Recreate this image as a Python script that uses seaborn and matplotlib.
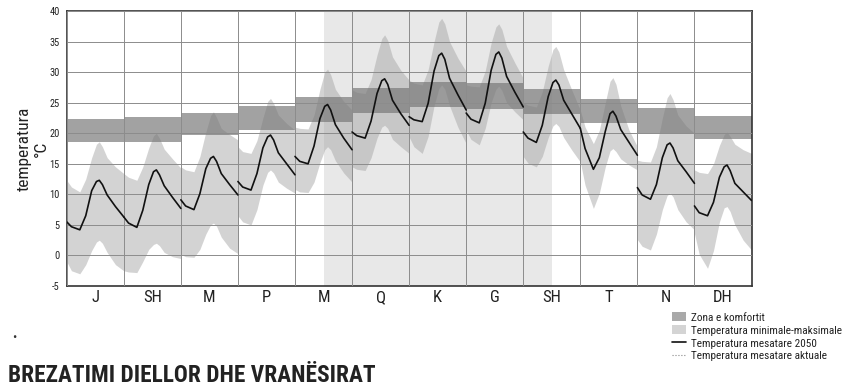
import numpy as np
import pandas as pd
import matplotlib
matplotlib.use("Agg")
import matplotlib.pyplot as plt
import seaborn as sns
from matplotlib import font_manager
from matplotlib.patches import Patch
from matplotlib.lines import Line2D

# muajt dhe oret e nje dite tipike per cdo muaj
months = ["J", "SH", "M", "P", "M", "Q", "K", "G", "SH", "T", "N", "DH"]
hours = [0, 2, 5.5, 8, 10.5, 12.5, 13.7, 15, 17, 20.5, 24]

# temperatura mesatare 2050 (nje rresht per muaj)
t_mean = [
    [5.5, 4.7, 4.2, 6.5, 10.6, 12.1, 12.3, 11.6, 9.9, 8.0, 6.3],
    [6.3, 5.3, 4.6, 7.4, 11.6, 13.7, 14.0, 13.2, 11.4, 9.5, 7.7],
    [9.1, 8.1, 7.5, 10.1, 14.2, 15.9, 16.2, 15.4, 13.4, 11.6, 9.9],
    [12.1, 11.2, 10.7, 13.4, 17.6, 19.4, 19.7, 18.9, 16.8, 15.0, 13.2],
    [16.2, 15.4, 15.0, 17.9, 22.4, 24.4, 24.7, 23.8, 21.4, 19.2, 17.3],
    [20.2, 19.6, 19.2, 22.0, 26.5, 28.6, 28.9, 28.0, 25.4, 23.2, 21.3],
    [22.7, 22.2, 21.9, 24.9, 30.2, 32.7, 33.1, 32.1, 29.0, 26.3, 23.8],
    [23.3, 22.3, 21.7, 24.9, 30.3, 32.9, 33.3, 32.3, 29.3, 26.7, 24.3],
    [20.2, 19.2, 18.5, 21.3, 26.0, 28.3, 28.7, 27.9, 25.4, 23.1, 20.8],
    [20.8, 17.5, 14.1, 16.0, 20.3, 23.2, 23.6, 22.8, 20.6, 18.5, 16.4],
    [11.1, 9.9, 9.2, 11.6, 16.0, 18.1, 18.4, 17.6, 15.5, 13.7, 11.8],
    [8.1, 7.0, 6.5, 8.7, 12.8, 14.5, 14.8, 13.9, 11.8, 10.4, 9.0],
]

# temperatura maksimale
t_max = [
    [12.3, 11.2, 10.4, 12.5, 16.0, 18.2, 18.6, 17.8, 16.0, 14.5, 13.4],
    [13.4, 12.8, 12.3, 14.5, 17.6, 19.6, 20.0, 19.2, 17.4, 15.8, 14.3],
    [14.5, 14.0, 13.7, 16.2, 20.2, 22.9, 23.5, 22.6, 20.8, 19.8, 18.9],
    [17.8, 17.0, 16.7, 18.8, 22.5, 25.2, 25.7, 24.9, 23.0, 21.6, 20.5],
    [21.0, 20.8, 20.7, 23.0, 27.2, 30.0, 30.5, 29.6, 27.2, 25.2, 23.8],
    [27.1, 26.7, 26.5, 28.8, 32.8, 35.5, 36.1, 35.2, 32.5, 30.3, 28.7],
    [28.7, 28.2, 27.9, 30.4, 35.0, 38.2, 38.8, 37.9, 35.0, 32.3, 30.1],
    [27.9, 27.7, 27.6, 30.2, 34.8, 37.4, 37.9, 37.0, 34.2, 31.5, 29.0],
    [25.0, 24.6, 24.3, 26.8, 31.0, 33.7, 34.2, 33.3, 30.4, 27.0, 23.8],
    [23.8, 21.0, 18.3, 20.5, 25.0, 28.5, 29.1, 28.0, 24.5, 20.5, 17.8],
    [15.6, 15.4, 15.3, 17.8, 22.5, 25.8, 26.5, 25.5, 23.0, 21.2, 20.0],
    [14.0, 13.6, 13.4, 15.0, 18.0, 19.8, 20.2, 19.5, 18.2, 17.3, 16.7],
]

# temperatura minimale
t_min = [
    [-1.0, -2.5, -3.0, -1.5, 0.8, 2.2, 2.5, 2.0, 0.5, -1.5, -2.5],
    [-2.5, -2.7, -2.8, -1.0, 1.0, 1.8, 2.0, 1.6, 0.5, -0.2, -0.5],
    [0.2, -0.2, -0.3, 1.0, 3.5, 5.0, 5.3, 4.8, 3.0, 1.2, 0.3],
    [6.5, 5.5, 5.0, 7.5, 11.5, 13.6, 14.0, 13.5, 12.0, 11.0, 10.2],
    [10.8, 10.4, 10.3, 12.0, 15.2, 17.3, 17.8, 17.3, 15.5, 13.5, 12.0],
    [14.5, 14.1, 13.9, 16.0, 19.2, 21.0, 21.3, 20.8, 19.0, 17.8, 16.7],
    [19.4, 17.8, 16.7, 19.5, 24.5, 27.3, 27.9, 27.2, 24.5, 21.0, 18.3],
    [20.5, 19.0, 18.1, 20.8, 25.0, 27.2, 27.7, 27.0, 25.0, 23.5, 22.2],
    [16.2, 15.1, 14.5, 16.2, 19.3, 21.2, 21.6, 21.1, 19.3, 17.2, 15.3],
    [15.3, 11.5, 7.7, 10.2, 14.5, 17.1, 17.5, 17.0, 15.8, 14.8, 14.0],
    [2.6, 1.5, 0.9, 3.5, 7.5, 9.8, 10.2, 9.6, 7.5, 5.5, 4.2],
    [3.6, 0.2, -2.1, 0.8, 5.5, 7.8, 8.0, 7.2, 5.0, 2.5, 0.9],
]

# zona e komfortit per muaj
comfort_lo = [18.6, 18.6, 19.7, 20.6, 21.9, 23.3, 24.3, 24.0, 23.2, 21.6, 20.1, 19.0]
comfort_hi = [22.4, 22.7, 23.3, 24.4, 26.0, 27.4, 28.4, 28.3, 27.2, 25.6, 24.1, 22.9]

rows = []
for i in range(len(months)):
    for j, h in enumerate(hours):
        rows.append({
            "month": i,
            "x": i + h / 24,
            "mean": t_mean[i][j],
            "lo": t_min[i][j],
            "hi": t_max[i][j],
        })
df = pd.DataFrame(rows)

sns.set_style("white")

# nje font i ngushte nese gjendet
fonts = font_manager.fontManager.ttflist
names = {f.name for f in fonts}
narrow = None
stretch = "normal"
for cand in ["Liberation Sans Narrow", "Roboto Condensed", "DejaVu Sans Condensed",
             "Noto Sans ExtraCondensed", "Noto Sans Condensed", "Open Sans Condensed",
             "Noto Sans SemiCondensed"]:
    if cand in names:
        narrow = cand
        break
if narrow is None:
    for fam in ["Roboto", "Noto Sans", "Open Sans", "DejaVu Sans", "Liberation Sans"]:
        if any(f.name == fam and f.stretch in ("condensed", "extra-condensed", "semi-condensed")
               for f in fonts):
            narrow = fam
            stretch = "condensed"
            break
if narrow is None:
    narrow = "DejaVu Sans"
plt.rcParams["font.family"] = [narrow, "DejaVu Sans"]
plt.rcParams["font.stretch"] = stretch

fig = plt.figure(figsize=(8.51, 3.86), dpi=100)
ax = fig.add_axes([0.0784, 0.259, 0.8047, 0.7125])

# periudha e veres (sfond)
ax.axvspan(4.5, 8.5, color="#e8e8e8", lw=0, zorder=0)

for i, g in df.groupby("month"):
    ax.fill_between(g["x"], g["lo"], g["hi"], color="#a8a8a8", alpha=0.5, lw=0, zorder=1)

ax.bar(np.arange(12) + 0.5, np.array(comfort_hi) - np.array(comfort_lo),
       bottom=comfort_lo, width=1.0, color="#777777", alpha=0.68, lw=0, zorder=1.5)

sns.lineplot(data=df, x="x", y="mean", units="month", estimator=None,
             color="#111111", lw=1.2, ax=ax, zorder=3, legend=False)

ax.set_xlim(0, 12)
ax.set_ylim(-5, 40)
ax.set_xticks(range(13))
ax.set_xticklabels([])
ax.set_xticks(np.arange(12) + 0.5, minor=True)
ax.set_xticklabels(months, minor=True, fontsize=12, color="#222222")
ax.set_yticks(range(-5, 41, 5))
ax.set_yticklabels([str(v) for v in range(-5, 41, 5)], fontsize=7.5, color="#222222")
ax.tick_params(axis="both", which="both", length=0)
ax.tick_params(axis="x", which="minor", pad=3)
ax.tick_params(axis="y", pad=5)
ax.set_axisbelow(False)
ax.grid(which="major", color="#8c8c8c", lw=0.7)
ax.set_xlabel("")
ax.set_ylabel("temperatura\n°C", fontsize=12.5, color="#222222", linespacing=1.2)
ax.yaxis.set_label_coords(-0.026, 0.5)
for s in ax.spines.values():
    s.set_color("#333333")
    s.set_linewidth(1.2)

handles = [
    Patch(facecolor="#a9a9a9", edgecolor="none"),
    Patch(facecolor="#d4d4d4", edgecolor="none"),
    Line2D([0], [0], color="#111111", lw=1.2),
    Line2D([0], [0], color="#888888", lw=0.8, ls=":"),
]
labels = [
    "Zona e komfortit",
    "Temperatura minimale-maksimale",
    "Temperatura mesatare 2050",
    "Temperatura mesatare aktuale",
]
leg = fig.legend(handles, labels, loc="upper left", bbox_to_anchor=(672 / 851, 1 - 312 / 386),
                 frameon=False, fontsize=8.2, handlelength=1.2, handleheight=0.9,
                 handletextpad=0.5, labelspacing=0.2, borderaxespad=0, borderpad=0)
for t in leg.get_texts():
    t.set_color("#222222")

fig.text(14 / 851, 1 - 337 / 386, "•", fontsize=9, ha="center", va="center", color="#333333")
title = fig.text(8 / 851, 1 - 364 / 386, "BREZATIMI DIELLOR DHE VRANËSIRAT", fontsize=18,
                 fontweight="bold", va="top", ha="left", color="#222222")

# pershtat madhesine e teksteve me gjeresine ne origjinal
fig.canvas.draw()
w = title.get_window_extent().width
if w > 367:
    title.set_fontsize(18 * 367 / w)
lw_ = max(t.get_window_extent().width for t in leg.get_texts())
if lw_ > 150:
    for t in leg.get_texts():
        t.set_fontsize(8.2 * 150 / lw_)

fig.savefig("out.png", dpi=100)
